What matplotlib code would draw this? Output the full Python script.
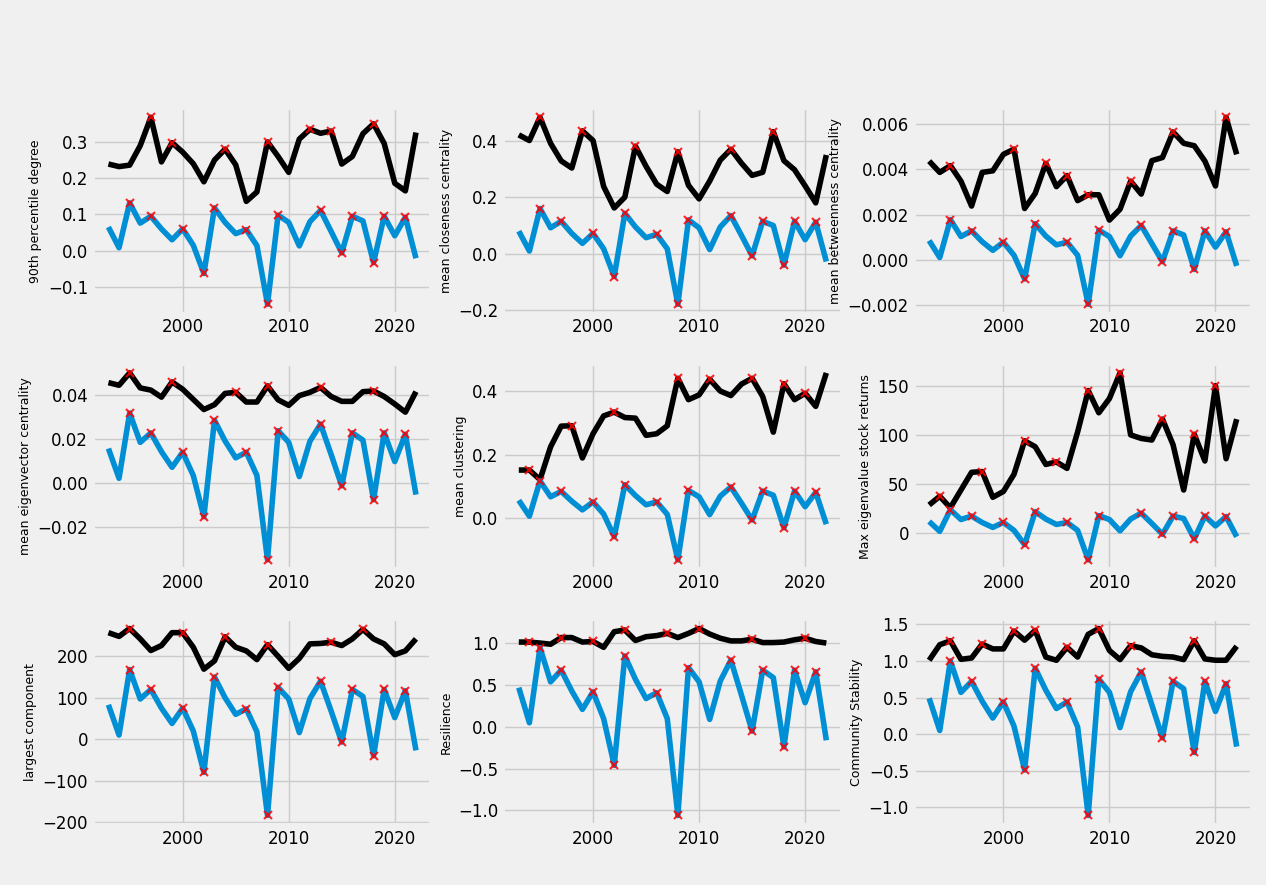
import matplotlib
matplotlib.use("Agg")
import matplotlib.pyplot as plt
import numpy as np

plt.style.use("fivethirtyeight")

years = list(range(1993, 2023))

# metric (black) and scaled market series (blue) per panel
labels = [
    "90th percentile degree", "mean closeness centrality", "mean betweenness centrality",
    "mean eigenvector centrality", "mean clustering", "Max eigenvalue stock returns",
    "largest component", "Resilience", "Community Stability",
]

deg90 = [0.239, 0.232, 0.236, 0.29, 0.368, 0.245, 0.298, 0.272, 0.24, 0.19,
         0.25, 0.28, 0.237, 0.136, 0.162, 0.30, 0.26, 0.216, 0.308, 0.335,
         0.324, 0.330, 0.239, 0.26, 0.323, 0.35, 0.296, 0.186, 0.165, 0.326]
deg90_mkt = [0.065, 0.008, 0.132, 0.076, 0.095, 0.06, 0.03, 0.06, 0.015, -0.063,
             0.118, 0.078, 0.047, 0.058, 0.014, -0.148, 0.098, 0.078, 0.013, 0.08,
             0.111, 0.053, -0.006, 0.095, 0.082, -0.033, 0.095, 0.041, 0.092, -0.021]

close = [0.42, 0.40, 0.482, 0.39, 0.328, 0.303, 0.434, 0.40, 0.238, 0.162,
         0.20, 0.38, 0.309, 0.246, 0.22, 0.36, 0.242, 0.194, 0.257, 0.331,
         0.369, 0.32, 0.277, 0.288, 0.431, 0.329, 0.297, 0.24, 0.18, 0.349]
close_mkt = [0.08, 0.01, 0.16, 0.092, 0.115, 0.072, 0.037, 0.072, 0.018, -0.08,
             0.143, 0.095, 0.057, 0.069, 0.018, -0.178, 0.12, 0.092, 0.015, 0.095,
             0.135, 0.065, -0.007, 0.115, 0.10, -0.04, 0.115, 0.05, 0.112, -0.027]

betw = [0.00437, 0.00387, 0.00417, 0.00348, 0.00238, 0.00387, 0.00394, 0.00467, 0.0049, 0.00227,
        0.00294, 0.00427, 0.00324, 0.00373, 0.00262, 0.00288, 0.00288, 0.00176, 0.00224, 0.00348,
        0.00291, 0.00439, 0.00453, 0.00566, 0.00516, 0.00505, 0.00437, 0.00327, 0.00631, 0.00467]
betw_mkt = [0.00085, 0.0001, 0.00178, 0.00103, 0.00128, 0.0008, 0.00042, 0.00078, 0.0002, -0.00085,
            0.0016, 0.00105, 0.00066, 0.00078, 0.0002, -0.00197, 0.00131, 0.00103, 0.00018, 0.00105,
            0.00152, 0.00072, -0.00008, 0.00128, 0.0011, -0.00043, 0.00128, 0.00056, 0.00124, -0.00027]

eigv = [0.0456, 0.0444, 0.050, 0.0432, 0.0422, 0.039, 0.0459, 0.0426, 0.038, 0.0334,
        0.0356, 0.0407, 0.0412, 0.0368, 0.0368, 0.0441, 0.0378, 0.0353, 0.0397, 0.0412,
        0.0434, 0.0393, 0.0371, 0.0371, 0.0415, 0.0418, 0.0393, 0.0359, 0.0322, 0.0415]
eigv_mkt = [0.0157, 0.0022, 0.0318, 0.0185, 0.0228, 0.0143, 0.0072, 0.014, 0.0035, -0.0152,
            0.0285, 0.0191, 0.0115, 0.014, 0.0035, -0.0348, 0.0238, 0.0185, 0.003, 0.019,
            0.0268, 0.013, -0.0012, 0.0228, 0.0195, -0.0075, 0.0228, 0.0098, 0.0222, -0.0052]

clust = [0.152, 0.152, 0.122, 0.225, 0.29, 0.291, 0.19, 0.266, 0.322, 0.334,
         0.317, 0.315, 0.261, 0.266, 0.291, 0.44, 0.373, 0.388, 0.437, 0.40,
         0.386, 0.422, 0.44, 0.383, 0.271, 0.423, 0.373, 0.393, 0.352, 0.457]
clust_mkt = [0.057, 0.007, 0.118, 0.068, 0.085, 0.054, 0.027, 0.052, 0.014, -0.057,
             0.106, 0.072, 0.043, 0.052, 0.013, -0.13, 0.088, 0.068, 0.012, 0.07,
             0.099, 0.048, -0.005, 0.086, 0.073, -0.029, 0.086, 0.037, 0.082, -0.018]

maxeig = [28.8, 37.6, 26, 44, 62, 62.7, 36.6, 42.5, 60, 94,
          88, 70, 72.5, 66, 103, 145, 122.5, 137, 163, 100,
          96.4, 94.8, 116, 90, 44, 100.6, 73.5, 150, 75.8, 116]
maxeig_mkt = [12, 2, 24, 14, 17.5, 11, 6, 11, 3, -11.5,
              22, 14.5, 9, 11, 3, -27, 18, 14, 2.5, 14.5,
              20.5, 10, -1, 17.5, 15, -5.5, 17.5, 7.5, 17, -3.5]

lcc = [257, 248, 267, 242, 214, 226, 257, 257, 222, 169,
       189, 247, 222, 213, 192, 228, 200, 171, 195, 230,
       231, 234, 226, 242, 265, 242, 230, 204, 213, 242]
lcc_mkt = [83, 10, 168, 97, 120, 75, 38, 75, 20, -80,
           150, 100, 60, 73, 18, -184, 125, 97, 16, 98,
           140, 68, -7, 120, 103, -40, 120, 52, 117, -27]

resil = [1.016, 1.016, 1.004, 0.99, 1.07, 1.07, 1.016, 1.023, 0.953, 1.14,
         1.16, 1.035, 1.08, 1.093, 1.12, 1.07, 1.12, 1.178, 1.112, 1.062,
         1.03, 1.03, 1.05, 1.01, 1.01, 1.016, 1.043, 1.062, 1.023, 1.004]
resil_mkt = [0.47, 0.05, 0.95, 0.54, 0.68, 0.43, 0.21, 0.42, 0.10, -0.46,
             0.85, 0.57, 0.34, 0.41, 0.10, -1.06, 0.71, 0.54, 0.09, 0.55,
             0.80, 0.38, -0.05, 0.68, 0.59, -0.24, 0.68, 0.29, 0.66, -0.16]

comm = [1.009, 1.221, 1.274, 1.022, 1.04, 1.23, 1.164, 1.164, 1.407, 1.283,
        1.416, 1.053, 1.009, 1.186, 1.053, 1.363, 1.442, 1.142, 1.018, 1.208,
        1.177, 1.084, 1.062, 1.053, 1.018, 1.274, 1.027, 1.009, 1.009, 1.20]
comm_mkt = [0.49, 0.05, 1.0, 0.57, 0.72, 0.45, 0.22, 0.44, 0.11, -0.49,
            0.90, 0.60, 0.35, 0.44, 0.10, -1.11, 0.75, 0.57, 0.09, 0.58,
            0.85, 0.40, -0.05, 0.72, 0.62, -0.25, 0.72, 0.31, 0.69, -0.17]

metrics = [deg90, close, betw, eigv, clust, maxeig, lcc, resil, comm]
markets = [deg90_mkt, close_mkt, betw_mkt, eigv_mkt, clust_mkt, maxeig_mkt,
           lcc_mkt, resil_mkt, comm_mkt]

# years flagged with a red x
mkt_marks = [1995, 1997, 2000, 2002, 2003, 2006, 2008, 2009, 2013, 2015, 2016, 2018, 2019, 2021]
metric_marks = [
    [1997, 1999, 2004, 2008, 2012, 2014, 2018],
    [1995, 1999, 2004, 2008, 2013, 2017],
    [1995, 2001, 2004, 2006, 2008, 2012, 2016, 2021],
    [1995, 1999, 2005, 2008, 2013, 2018],
    [1994, 1998, 2002, 2008, 2011, 2015, 2018, 2020],
    [1994, 1998, 2002, 2005, 2008, 2011, 2015, 2018, 2020],
    [1995, 2000, 2004, 2008, 2014, 2017],
    [1994, 1997, 2000, 2003, 2007, 2010, 2015, 2020],
    [1995, 1998, 2001, 2003, 2006, 2009, 2012, 2018],
]

fig, axes = plt.subplots(3, 3, figsize=(12.66, 8.85), dpi=100)
fig.patch.set_facecolor("#f0f0f0")
fig.subplots_adjust(left=0.0735, right=0.989, top=0.878, bottom=0.068,
                    wspace=0.213, hspace=0.243)

for ax, lab, met, mkt, marks in zip(axes.flat, labels, metrics, markets, metric_marks):
    ax.set_facecolor("#f0f0f0")
    ax.plot(years, met, color="black", lw=4)
    ax.plot(years, mkt, color="#008fd5", lw=4)
    mi = [years.index(y) for y in marks]
    ax.plot(marks, [met[i] for i in mi], "x", color="red", ms=6, mew=1.5, alpha=0.85)
    bi = [years.index(y) for y in mkt_marks]
    ax.plot(mkt_marks, [mkt[i] for i in bi], "x", color="red", ms=6, mew=1.5, alpha=0.85)
    ax.set_ylabel(lab, fontsize=9)
    ax.tick_params(labelsize=12)

fig.savefig("out.png", dpi=100, facecolor=fig.get_facecolor())
